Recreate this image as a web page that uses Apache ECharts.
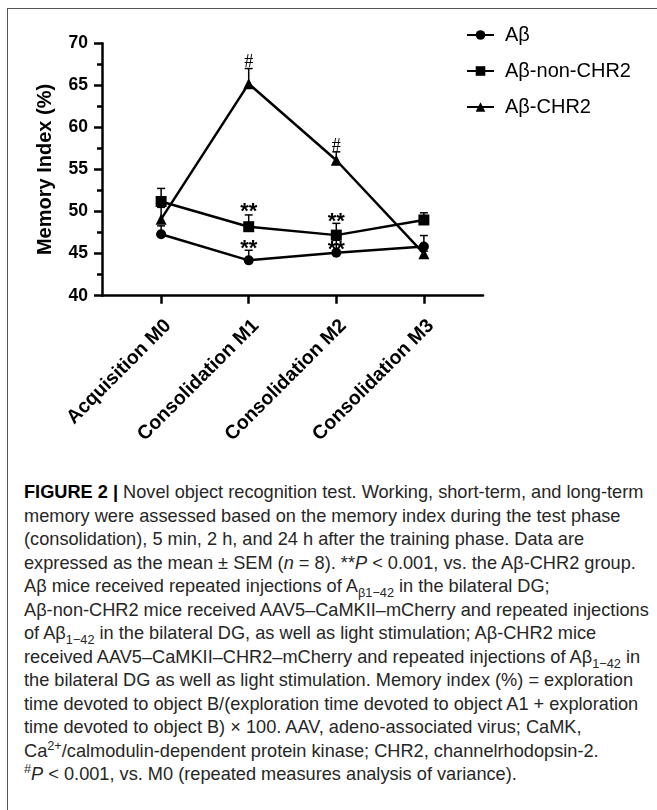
<!DOCTYPE html>
<html>
<head>
<meta charset="utf-8">
<script src="https://cdn.jsdelivr.net/npm/echarts@6/dist/echarts.min.js"></script>
<style>
  html, body { margin: 0; padding: 0; background: #fff; }
  body { width: 657px; height: 810px; position: relative; overflow: hidden; }
  #frame { position: absolute; left: 7px; top: 8px; width: 660px; height: 820px;
           border-left: 1.5px solid #555; border-top: 1.5px solid #555; }
  #chart { position: absolute; left: 0; top: 0; width: 657px; height: 470px; }
  #caption { position: absolute; left: 24px; top: 481px; font-family: "Liberation Sans", Arial, sans-serif;
             font-size: 18.2px; line-height: 23.5px; color: #262626; white-space: nowrap; }
  #caption sub, #caption sup { font-size: 70%; line-height: 0; }
  #caption b { color: #000; }
</style>
</head>
<body>
<div id="frame"></div>
<div id="chart"></div>
<div id="caption"><b>FIGURE 2 |</b> Novel object recognition test. Working, short-term, and long-term<br>memory were assessed based on the memory index during the test phase<br>(consolidation), 5 min, 2 h, and 24 h after the training phase. Data are<br>expressed as the mean ± SEM (<i>n</i> = 8). **<i>P</i> &lt; 0.001, vs. the Aβ-CHR2 group.<br>Aβ mice received repeated injections of A<sub>β1−42</sub> in the bilateral DG;<br>Aβ-non-CHR2 mice received AAV5–CaMKII–mCherry and repeated injections<br>of Aβ<sub>1−42</sub> in the bilateral DG, as well as light stimulation; Aβ-CHR2 mice<br>received AAV5–CaMKII–CHR2–mCherry and repeated injections of Aβ<sub>1−42</sub> in<br>the bilateral DG as well as light stimulation. Memory index (%) = exploration<br>time devoted to object B/(exploration time devoted to object A1 + exploration<br>time devoted to object B) × 100. AAV, adeno-associated virus; CaMK,<br>Ca<sup>2+</sup>/calmodulin-dependent protein kinase; CHR2, channelrhodopsin-2.<br><sup>#</sup><i>P</i> &lt; 0.001, vs. M0 (repeated measures analysis of variance).</div>
<script>
const categories = ['Acquisition M0', 'Consolidation M1', 'Consolidation M2', 'Consolidation M3'];
const seriesNames = ['Aβ', 'Aβ-non-CHR2', 'Aβ-CHR2'];
const abMean = [47.3, 44.2, 45.1, 45.85];
const abSem = [1.0, 1.2, 1.5, 1.3];
const nonMean = [51.2, 48.2, 47.2, 49.0];
const nonSem = [1.55, 1.4, 1.4, 0.85];
const chrMean = [49.1, 65.2, 56.1, 45.0];
const chrSem = [1.4, 1.8, 1.0, 0.3];
const yMin = 40, yMax = 70, yStep = 5;
const annCat = [1, 2, 1, 1, 2, 2];
const annVal = [67.7, 57.8, 49.9, 45.5, 48.8, 45.4];
const annText = ['#', '#', '**', '**', '**', '**'];

const catIdx = categories.map((c, i) => i);
const FONT = '"Liberation Sans", Arial, sans-serif';

function lineSeries(name, means, symbol, size) {
  return {
    name: name, type: 'line', data: means.map((v, i) => [i, v]),
    symbol: symbol, symbolSize: size, z: 3,
    lineStyle: { color: '#000', width: 2.5 },
    itemStyle: { color: '#000', borderWidth: 0 },
    emphasis: { disabled: true }, animation: false
  };
}
function errSeries(name, means, sems) {
  return {
    name: name + ' SEM', type: 'custom', z: 2, animation: false,
    data: means.map((v, i) => [i, v, sems[i]]),
    renderItem: function (params, api) {
      const x = api.value(0), m = api.value(1), s = api.value(2);
      const p0 = api.coord([x, m]);
      const p1 = api.coord([x, m + s]);
      return { type: 'group', children: [
        { type: 'line', shape: { x1: p0[0], y1: p0[1], x2: p1[0], y2: p1[1] }, style: { stroke: '#000', lineWidth: 1.5 } },
        { type: 'line', shape: { x1: p1[0] - 4, y1: p1[1], x2: p1[0] + 4, y2: p1[1] }, style: { stroke: '#000', lineWidth: 1.5 } }
      ]};
    }
  };
}

const chart = echarts.init(document.getElementById('chart'), null, { renderer: 'canvas' });
chart.setOption({
  animation: false,
  backgroundColor: 'transparent',
  legend: {
    data: seriesNames, orient: 'vertical', left: 466, top: 25, padding: 0,
    itemWidth: 27, itemHeight: 12, itemGap: 16,
    textStyle: { fontFamily: FONT, fontSize: 20, color: '#000', lineHeight: 20, padding: [0, 0, 0, 6] },
    selectedMode: false
  },
  grid: { left: 102, top: 43.3, width: 381, height: 252.4, outerBoundsMode: 'none', containLabel: false },
  xAxis: {
    type: 'value', min: -0.675, max: 3.675,
    axisLine: { show: true, onZero: false, lineStyle: { color: '#000', width: 2.5 } },
    axisTick: { show: true, length: 8, lineStyle: { color: '#000', width: 2.5 }, customValues: catIdx },
    axisLabel: {
      customValues: catIdx, rotate: 45, formatter: v => categories[Math.round(v)],
      fontFamily: FONT, fontWeight: 'bold', fontSize: 19.5, color: '#000',
      align: 'right', verticalAlign: 'top', margin: 20
    },
    splitLine: { show: false }
  },
  yAxis: {
    type: 'value', min: yMin, max: yMax, interval: yStep,
    name: 'Memory Index (%)', nameLocation: 'middle', nameGap: 47,
    nameTextStyle: { fontFamily: FONT, fontWeight: 'bold', fontSize: 20, color: '#000' },
    axisLine: { show: true, onZero: false, lineStyle: { color: '#000', width: 2.5 } },
    axisTick: { show: true, length: 8, lineStyle: { color: '#000', width: 2.5 } },
    minorTick: { show: true, splitNumber: 2, length: 5, lineStyle: { color: '#000', width: 2.5 } },
    axisLabel: { fontFamily: FONT, fontWeight: 'bold', fontSize: 17.5, color: '#000', margin: 14 },
    splitLine: { show: false }
  },
  series: [
    errSeries(seriesNames[0], abMean, abSem),
    errSeries(seriesNames[1], nonMean, nonSem),
    errSeries(seriesNames[2], chrMean, chrSem),
    lineSeries(seriesNames[0], abMean, 'circle', 10),
    lineSeries(seriesNames[1], nonMean, 'rect', 11),
    lineSeries(seriesNames[2], chrMean, 'triangle', 11),
    {
      name: 'annotations', type: 'custom', z: 4, animation: false,
      data: annCat.map((c, i) => [c, annVal[i]]),
      renderItem: function (params, api) {
        const p = api.coord([api.value(0), api.value(1)]);
        const t = annText[params.dataIndex];
        const isHash = t === '#';
        return { type: 'text', x: p[0], y: p[1], style: {
          text: t, fill: '#000', align: 'center', verticalAlign: 'middle',
          fontFamily: isHash ? '"Liberation Serif", serif' : FONT,
          fontWeight: isHash ? 'normal' : 'bold', fontSize: isHash ? 18 : 22
        }};
      }
    }
  ]
});
</script>
</body>
</html>
